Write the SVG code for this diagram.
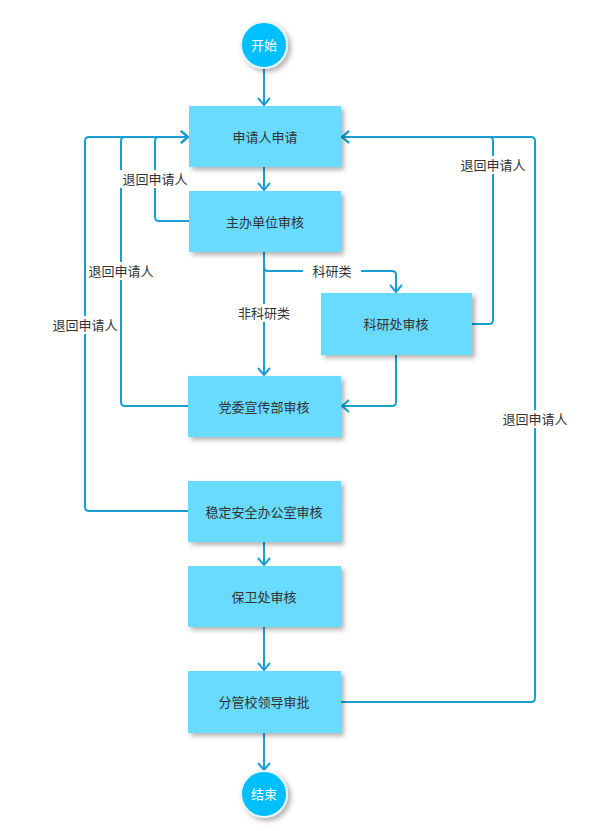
<svg xmlns="http://www.w3.org/2000/svg" width="597" height="831" viewBox="0 0 597 831">
<style>
.box{fill:#69dbff;filter:url(#sh)}
.circ{fill:#00bfff;stroke:#e8f4f8;stroke-width:2;filter:url(#sh)}
.t{font-family:"Noto Sans CJK SC","Liberation Sans",sans-serif;font-size:13px;fill:#333;text-anchor:middle;dominant-baseline:central}
.tw{font-family:"Noto Sans CJK SC","Liberation Sans",sans-serif;font-size:13px;fill:#fff;text-anchor:middle;dominant-baseline:central}
.c{fill:none;stroke:#1a9fd2;stroke-width:2;stroke-linejoin:round}
.lbg{fill:#fff}
</style>
<defs>
<filter id="sh" x="-20%" y="-20%" width="150%" height="160%">
<feDropShadow dx="3" dy="3" stdDeviation="2.5" flood-color="#000" flood-opacity="0.3"/>
</filter>
<marker id="ar" markerWidth="14" markerHeight="14" refX="10" refY="7" orient="auto" markerUnits="userSpaceOnUse">
<path d="M3,1 L10,7 L3,13" fill="none" stroke="#1a9fd2" stroke-width="2"/>
</marker>
</defs>
<g id="connectors">
<path class="c" d="M264,67 V105" marker-end="url(#ar)"/>
<path class="c" d="M264,167 V190" marker-end="url(#ar)"/>
<path class="c" d="M189,221 H159 Q155,221 155,217 V141 Q155,137 159,137 H188" marker-end="url(#ar)"/>
<path class="c" d="M264,252 V375" marker-end="url(#ar)"/>
<path class="c" d="M264,267 Q264,271 268,271 H392 Q396,271 396,275 V292" marker-end="url(#ar)"/>
<path class="c" d="M396,355 V402 Q396,406 392,406 H342" marker-end="url(#ar)"/>
<path class="c" d="M472,324 H489 Q493,324 493,320 V141 Q493,137 489,137 H342" marker-end="url(#ar)"/>
<path class="c" d="M188,406 H125 Q121,406 121,402 V141 Q121,137 125,137 H188" marker-end="url(#ar)"/>
<path class="c" d="M188,511 H89 Q85,511 85,507 V141 Q85,137 89,137 H188" marker-end="url(#ar)"/>
<path class="c" d="M264,542 V565" marker-end="url(#ar)"/>
<path class="c" d="M264,627 V670" marker-end="url(#ar)"/>
<path class="c" d="M341,702 H531 Q535,702 535,698 V141 Q535,137 531,137 H342" marker-end="url(#ar)"/>
<path class="c" d="M264,733 V770" marker-end="url(#ar)"/>
<rect class="lbg" x="120" y="170" width="70" height="18"/>
<text class="t" x="155" y="178">退回申请人</text>
<rect class="lbg" x="303" y="262" width="58" height="18"/>
<text class="t" x="332" y="270">科研类</text>
<rect class="lbg" x="236" y="304" width="56" height="18"/>
<text class="t" x="264" y="312">非科研类</text>
<rect class="lbg" x="458" y="156" width="70" height="18"/>
<text class="t" x="493" y="164">退回申请人</text>
<rect class="lbg" x="86" y="262" width="70" height="18"/>
<text class="t" x="121" y="270">退回申请人</text>
<rect class="lbg" x="50" y="316" width="70" height="18"/>
<text class="t" x="85" y="324">退回申请人</text>
<rect class="lbg" x="500" y="410" width="70" height="18"/>
<text class="t" x="535" y="418">退回申请人</text>
</g>
<g id="start"><circle class="circ" cx="264" cy="45" r="23"/><text class="tw" x="264" y="44">开始</text></g>
<g id="apply"><rect class="box" x="189" y="106" width="152" height="61"/><text class="t" x="265" y="136">申请人申请</text></g>
<g id="host"><rect class="box" x="189" y="191" width="152" height="61"/><text class="t" x="265" y="221">主办单位审核</text></g>
<g id="research"><rect class="box" x="321" y="293" width="151" height="62"/><text class="t" x="396" y="323">科研处审核</text></g>
<g id="party"><rect class="box" x="188" y="376" width="153" height="61"/><text class="t" x="264" y="406">党委宣传部审核</text></g>
<g id="stability"><rect class="box" x="188" y="481" width="153" height="61"/><text class="t" x="264" y="511">稳定安全办公室审核</text></g>
<g id="security"><rect class="box" x="188" y="566" width="153" height="61"/><text class="t" x="264" y="596">保卫处审核</text></g>
<g id="leader"><rect class="box" x="188" y="671" width="153" height="62"/><text class="t" x="264" y="701">分管校领导审批</text></g>
<g id="end"><circle class="circ" cx="264" cy="794" r="23"/><text class="tw" x="264" y="793">结束</text></g>
</svg>
